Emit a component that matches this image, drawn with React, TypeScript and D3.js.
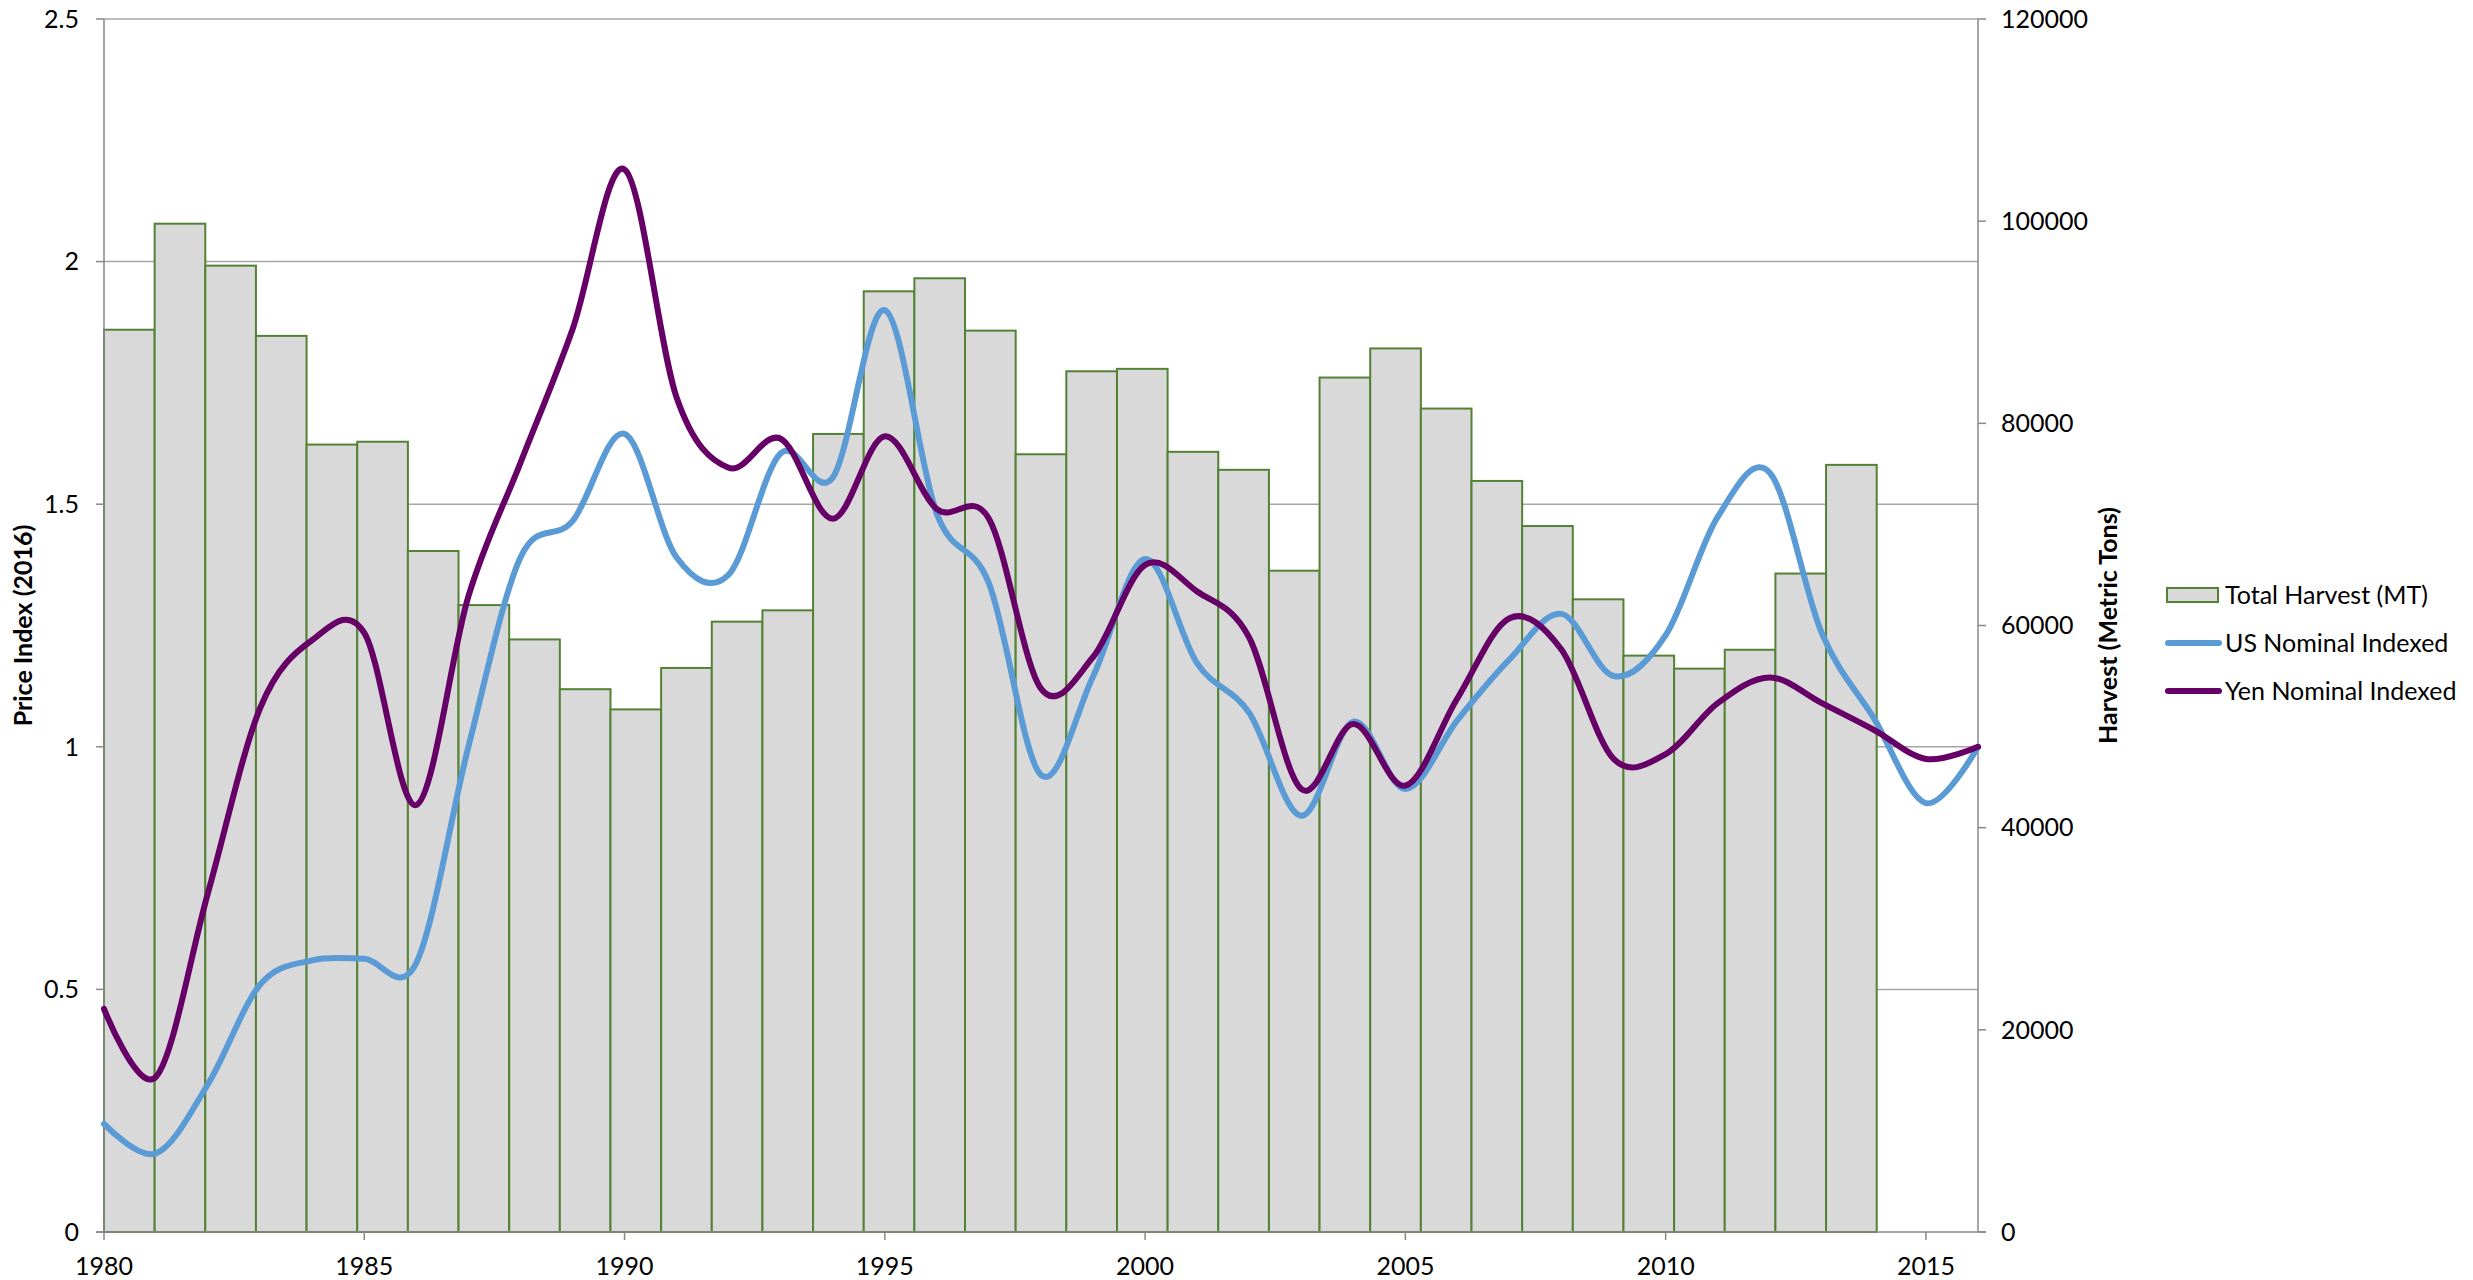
import React from 'react';
import * as d3 from 'd3';

// Column categories (category axis shared by the harvest bars)
const categories = [1980, 1981, 1982, 1983, 1984, 1985, 1986, 1987, 1988, 1989, 1990, 1991, 1992, 1993, 1994, 1995, 1996, 1997, 1998, 1999, 2000, 2001, 2002, 2003, 2004, 2005, 2006, 2007, 2008, 2009, 2010, 2011, 2012, 2013, 2014, 2015, 2016];
// Total harvest (metric tons) 1980..2014
const harvest = [89260, 99750, 95600, 88650, 77900, 78180, 67370, 62020, 58620, 53700, 51700, 55800, 60380, 61500, 78950, 93060, 94350, 89170, 76940, 85150, 85390, 77180, 75400, 65420, 84530, 87410, 81460, 74300, 69840, 62590, 57020, 55730, 57600, 65140, 75890];

// Smoothed price index lines (scatter x axis)
const lineYears = [1980, 1981, 1982, 1983, 1984, 1985, 1986, 1987, 1988, 1989, 1990, 1991, 1992, 1993, 1994, 1995, 1996, 1997, 1998, 1999, 2000, 2001, 2002, 2003, 2004, 2005, 2006, 2007, 2008, 2009, 2010, 2011, 2012, 2013, 2014, 2015, 2016];
const usNominal = [0.223, 0.162, 0.305, 0.51, 0.56, 0.563, 0.555, 1.0, 1.39, 1.465, 1.645, 1.39, 1.355, 1.605, 1.555, 1.9, 1.48, 1.337, 0.942, 1.145, 1.387, 1.172, 1.07, 0.858, 1.052, 0.913, 1.055, 1.18, 1.274, 1.146, 1.23, 1.474, 1.565, 1.234, 1.059, 0.884, 1.0];
const yenNominal = [0.46, 0.32, 0.7, 1.08, 1.22, 1.235, 0.88, 1.31, 1.585, 1.86, 2.19, 1.72, 1.575, 1.635, 1.47, 1.64, 1.49, 1.47, 1.12, 1.185, 1.375, 1.32, 1.225, 0.913, 1.047, 0.92, 1.1, 1.265, 1.2, 0.975, 0.985, 1.09, 1.143, 1.09, 1.035, 0.975, 1.0];

const leftTicks = [0, 0.5, 1, 1.5, 2, 2.5];
const rightTicks = [0, 20000, 40000, 60000, 80000, 100000, 120000];
const xTicks = [1980, 1985, 1990, 1995, 2000, 2005, 2010, 2015];

const legendItems = ['Total Harvest (MT)', 'US Nominal Indexed', 'Yen Nominal Indexed'];

const W = 2473;
const H = 1280;
const PL = 104;
const PR = 1978;
const PT = 19;
const PB = 1232;

const FONT = 'Lato, "Open Sans", sans-serif';
const AXIS = '#888888';
const GRID = '#a6a6a6';
const BAR_FILL = '#d9d9d9';
const BAR_STROKE = '#548235';
const US_COLOR = '#5b9bd5';
const YEN_COLOR = '#660066';

export default function App() {
  const xBand = d3.scaleBand<number>().domain(categories).range([PL, PR]).padding(0);
  const xLin = d3.scaleLinear().domain([1980, 2016]).range([PL, PR]);
  const yLeft = d3.scaleLinear().domain([0, 2.5]).range([PB, PT]);
  const yRight = d3.scaleLinear().domain([0, 120000]).range([PB, PT]);

  const line = d3
    .line<number>()
    .x((_, i) => xLin(lineYears[i]))
    .y((d) => yLeft(d))
    .curve(d3.curveCardinal.tension(0));

  const fmt = (v: number) => String(v);

  return (
    <svg
      width={W}
      height={H}
      style={{ position: 'absolute', left: 0, top: 0, background: '#fff' }}
      fontFamily={FONT}
    >
      <rect x={0} y={0} width={W} height={H} fill="#fff" />
      {/* gridlines */}
      {leftTicks.filter((t) => t > 0).map((t) => (
        <line key={'g' + t} x1={PL} x2={PR} y1={yLeft(t)} y2={yLeft(t)} stroke={GRID} strokeWidth={1.5} />
      ))}
      {/* bars */}
      {harvest.map((v, i) => (
        <rect
          key={'b' + i}
          x={xBand(categories[i])!}
          y={yRight(v)}
          width={xBand.bandwidth()}
          height={PB - yRight(v)}
          fill={BAR_FILL}
          stroke={BAR_STROKE}
          strokeWidth={2}
        />
      ))}
      {/* axes */}
      <line x1={PL} x2={PL} y1={PT} y2={PB} stroke={AXIS} strokeWidth={1.5} />
      <line x1={PR} x2={PR} y1={PT} y2={PB} stroke={AXIS} strokeWidth={1.5} />
      <line x1={PL - 8} x2={PR + 8} y1={PB} y2={PB} stroke={AXIS} strokeWidth={1.5} />
      {leftTicks.map((t) => (
        <g key={'lt' + t}>
          <line x1={PL - 8} x2={PL} y1={yLeft(t)} y2={yLeft(t)} stroke={AXIS} strokeWidth={1.5} />
          <text x={79} y={yLeft(t)} dy="0.35em" textAnchor="end" fontSize={25} fill="#000">
            {fmt(t)}
          </text>
        </g>
      ))}
      {rightTicks.map((t) => (
        <g key={'rt' + t}>
          <line x1={PR} x2={PR + 8} y1={yRight(t)} y2={yRight(t)} stroke={AXIS} strokeWidth={1.5} />
          <text x={2001} y={yRight(t)} dy="0.35em" textAnchor="start" fontSize={25} fill="#000">
            {fmt(t)}
          </text>
        </g>
      ))}
      {xTicks.map((t) => (
        <g key={'xt' + t}>
          <line x1={xLin(t)} x2={xLin(t)} y1={PB} y2={PB + 8} stroke={AXIS} strokeWidth={1.5} />
          <text x={xLin(t)} y={1266} dy="0.35em" textAnchor="middle" fontSize={25} fill="#000">
            {t}
          </text>
        </g>
      ))}
      {/* lines */}
      <path d={line(usNominal) || ''} fill="none" stroke={US_COLOR} strokeWidth={6} strokeLinejoin="round" strokeLinecap="round" />
      <path d={line(yenNominal) || ''} fill="none" stroke={YEN_COLOR} strokeWidth={6} strokeLinejoin="round" strokeLinecap="round" />
      {/* axis titles */}
      <text
        transform={`translate(23, ${(PT + PB) / 2}) rotate(-90)`}
        textAnchor="middle"
        dy="0.35em"
        fontSize={25}
        fontWeight="bold"
        fill="#000"
      >
        Price Index (2016)
      </text>
      <text
        transform={`translate(2108, ${(PT + PB) / 2}) rotate(-90)`}
        textAnchor="middle"
        dy="0.35em"
        fontSize={25}
        fontWeight="bold"
        fill="#000"
      >
        Harvest (Metric Tons)
      </text>
      {/* legend */}
      <g>
        <rect x={2167} y={588} width={51} height={14} fill={BAR_FILL} stroke={BAR_STROKE} strokeWidth={2} />
        <text x={2225} y={595} dy="0.35em" fontSize={25} fill="#000">{legendItems[0]}</text>
        <line x1={2168} x2={2219} y1={643} y2={643} stroke={US_COLOR} strokeWidth={6} strokeLinecap="round" />
        <text x={2225} y={643} dy="0.35em" fontSize={25} fill="#000">{legendItems[1]}</text>
        <line x1={2168} x2={2219} y1={691} y2={691} stroke={YEN_COLOR} strokeWidth={6} strokeLinecap="round" />
        <text x={2225} y={691} dy="0.35em" fontSize={25} fill="#000">{legendItems[2]}</text>
      </g>
    </svg>
  );
}
